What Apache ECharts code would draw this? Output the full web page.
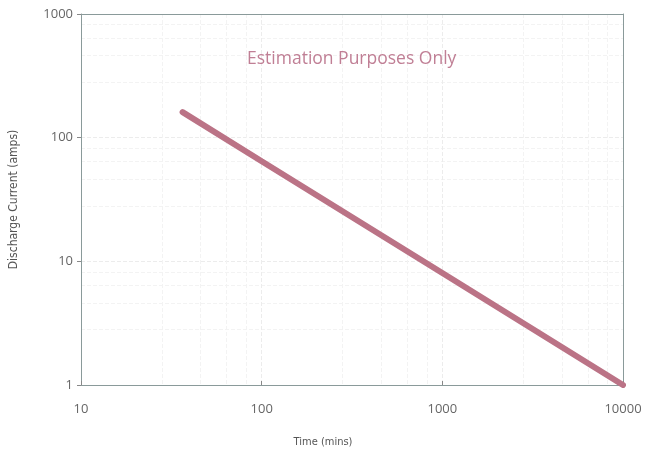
<!DOCTYPE html>
<html><head><meta charset="utf-8">
<script src="https://cdn.jsdelivr.net/npm/echarts@6/dist/echarts.min.js"></script>
<style>html,body{margin:0;padding:0;background:#fff}#c{width:645px;height:456px}</style>
</head><body><div id="c"></div>
<script>
var timeMins = [36.5, 100, 1000, 10000];
var currentAmps = [161, 64.5, 8.05, 1];
var xTicks = [10, 100, 1000, 10000];
var yTicks = [1, 10, 100, 1000];
var titleText = 'Estimation Purposes Only';

var plain = function(v){ return String(v); };
var chart = echarts.init(document.getElementById('c'));
chart.setOption({
  animation: false,
  title: {text: titleText, left: 242, top: 45,
    textStyle: {color: '#c07f95', fontSize: 17.5, fontWeight: 'normal', fontFamily: 'Open Sans'}},
  grid: {left: 79, right: 22, top: 14, bottom: 71, containLabel: false},
  xAxis: [{type: 'log', logBase: 10, min: xTicks[0], max: xTicks[xTicks.length-1],
    name: 'Time (mins)', nameLocation: 'middle', nameGap: 52,
    nameTextStyle: {color: '#555', fontSize: 11, fontFamily: 'DejaVu Sans Condensed', padding: [0, 58, 0, 0]},
    axisLine: {lineStyle: {color: '#8a9a9a', width: 1}},
    axisTick: {show: true, inside: true, length: 4, lineStyle: {color: '#888'}},
    axisLabel: {color: '#666', fontSize: 13, margin: 18, fontFamily: 'Open Sans', formatter: plain},
    splitLine: {show: true, lineStyle: {color: '#ececec', type: 'dashed'}},
    minorSplitLine: {show: true, lineStyle: {color: '#f3f3f3', type: 'dashed'}}
  }, {type: 'log', logBase: 10, position: 'top', min: xTicks[0], max: xTicks[xTicks.length-1],
    axisLine: {show: true, lineStyle: {color: '#8a9a9a', width: 1}},
    axisTick: {show: false}, axisLabel: {show: false}, splitLine: {show: false}}],
  yAxis: [{type: 'log', logBase: 10, min: yTicks[0], max: yTicks[yTicks.length-1],
    name: 'Discharge Current (amps)', nameLocation: 'middle', nameGap: 61,
    nameTextStyle: {color: '#555', fontSize: 12, fontFamily: 'DejaVu Sans Condensed'},
    axisLine: {show: true, lineStyle: {color: '#8a9a9a', width: 1}},
    axisTick: {show: true, length: 4, lineStyle: {color: '#888'}},
    axisLabel: {color: '#666', fontSize: 13, margin: 8, fontFamily: 'Open Sans', formatter: plain},
    splitLine: {show: true, lineStyle: {color: '#ececec', type: 'dashed'}},
    minorSplitLine: {show: true, lineStyle: {color: '#f3f3f3', type: 'dashed'}}
  }, {type: 'log', logBase: 10, position: 'right', min: yTicks[0], max: yTicks[yTicks.length-1],
    axisLine: {show: true, lineStyle: {color: '#8a9a9a', width: 1}},
    axisTick: {show: false}, axisLabel: {show: false}, splitLine: {show: false}}],
  series: [{type: 'line', data: timeMins.map(function(t, i){ return [t, currentAmps[i]]; }),
    showSymbol: false, symbol: 'none',
    lineStyle: {color: '#bb7386', width: 6, cap: 'round'}}]
});
</script></body></html>
